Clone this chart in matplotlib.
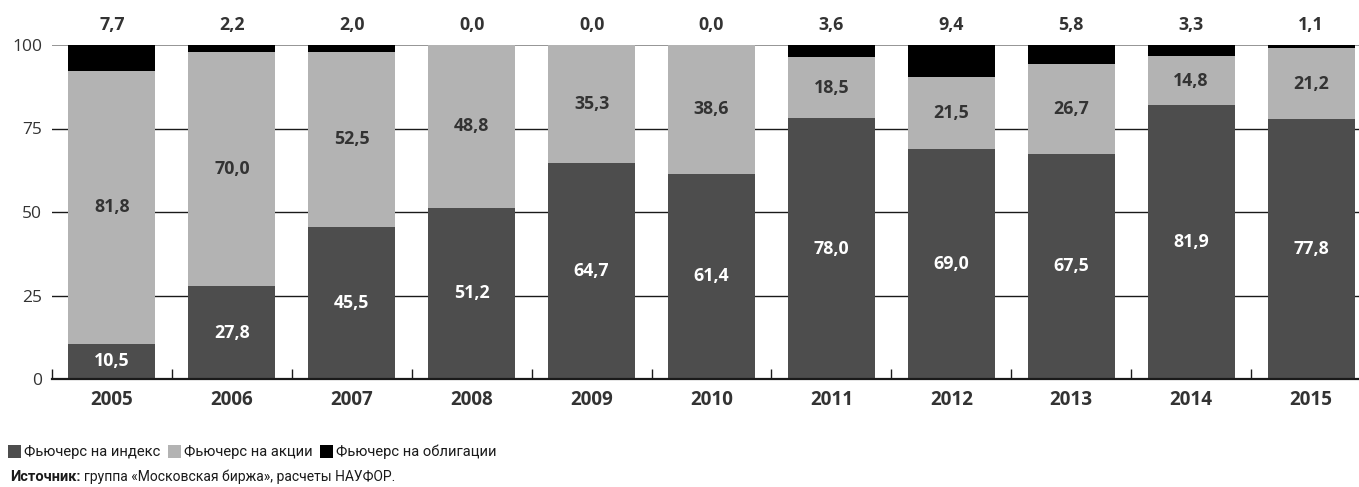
import matplotlib
matplotlib.use('Agg')
import matplotlib.pyplot as plt
from matplotlib.patches import Patch
import numpy as np

plt.rcParams['font.family'] = ['Open Sans', 'DejaVu Sans']

# Data
years = ['2005', '2006', '2007', '2008', '2009', '2010',
         '2011', '2012', '2013', '2014', '2015']
index_fut = [10.5, 27.8, 45.5, 51.2, 64.7, 61.4, 78.0, 69.0, 67.5, 81.9, 77.8]
shares_fut = [81.8, 70.0, 52.5, 48.8, 35.3, 38.6, 18.5, 21.5, 26.7, 14.8, 21.2]
bonds_fut = [7.7, 2.2, 2.0, 0.0, 0.0, 0.0, 3.6, 9.4, 5.8, 3.3, 1.1]
series_names = ['Фьючерс на индекс', 'Фьючерс на акции', 'Фьючерс на облигации']

c_index = '#4d4d4d'
c_shares = '#b3b3b3'
c_bonds = '#000000'
txt = '#333333'
narrow = ['Roboto', 'DejaVu Sans']

def fmt(v):
    return f'{v:.1f}'.replace('.', ',')

fig = plt.figure(figsize=(13.59, 4.87), dpi=100)
ax = fig.add_axes([52 / 1359, 1 - 379 / 487, 1 - 52 / 1359, 334 / 487])

x = np.arange(len(years))
w = 0.725
idx = np.array(index_fut)
sh = np.array(shares_fut)
bd = np.array(bonds_fut)

# grid lines behind bars
for g in [25, 50, 75]:
    ax.axhline(g, color='#1a1a1a', lw=1.0, zorder=0)
ax.axhline(100, color='#8c8c8c', lw=1.3, zorder=0)

ax.bar(x, idx, w, color=c_index, zorder=2)
ax.bar(x, sh, w, bottom=idx, color=c_shares, zorder=2)
ax.bar(x, bd, w, bottom=idx + sh, color=c_bonds, zorder=2)

# value labels
for i in range(len(years)):
    ax.text(x[i], idx[i] / 2, fmt(idx[i]), ha='center', va='center',
            color='white', fontsize=12.8, fontweight='bold', zorder=3)
    ax.text(x[i], idx[i] + sh[i] / 2, fmt(sh[i]), ha='center', va='center',
            color=txt, fontsize=12.8, fontweight='bold', zorder=3)
    ax.text(x[i], 106, fmt(bd[i]), ha='center', va='center',
            color=txt, fontsize=12.8, fontweight='bold', clip_on=False)

ax.set_xlim(-0.5, 10.4)
ax.set_ylim(0, 100)

for s in ['top', 'right', 'left']:
    ax.spines[s].set_visible(False)
ax.spines['bottom'].set_color('#1a1a1a')
ax.spines['bottom'].set_linewidth(1.6)

ax.set_yticks([0, 25, 50, 75, 100])
ax.tick_params(axis='y', length=0, pad=7, labelsize=12.5, labelcolor=txt)
ax.set_xticks(x)
ax.set_xticklabels(years, fontsize=13.6, fontweight='bold', color=txt)
ax.tick_params(axis='x', which='major', length=0, pad=8)
ax.set_xticks(np.arange(-0.5, 10, 1.0), minor=True)
ax.tick_params(axis='x', which='minor', direction='in', length=7,
               width=1.0, color='#1a1a1a')

# legend
handles = [Patch(facecolor=c, edgecolor='none') for c in [c_index, c_shares, c_bonds]]
fig.legend(handles, series_names, loc='center left',
           bbox_to_anchor=(0.0, 1 - 452 / 487), ncol=3, frameon=False,
           prop={'family': narrow, 'size': 10.6}, handlelength=0.9,
           handleheight=1.05, handletextpad=0.2, columnspacing=0.5,
           borderaxespad=0.15, labelcolor='#1a1a1a')

# source
r = fig.canvas.get_renderer()
t1 = fig.text(10 / 1359, 1 - 477 / 487, 'Источник:', fontsize=10.5,
              family=narrow, fontweight='semibold', color='#1a1a1a', va='center')
bb = t1.get_window_extent(renderer=r)
fig.text(bb.x1 / 1359 + 3 / 1359, 1 - 477 / 487,
         'группа «Московская биржа», расчеты НАУФОР.',
         fontsize=10.0, family=narrow, color='#1a1a1a', va='center')

fig.savefig('out.png', dpi=100)
